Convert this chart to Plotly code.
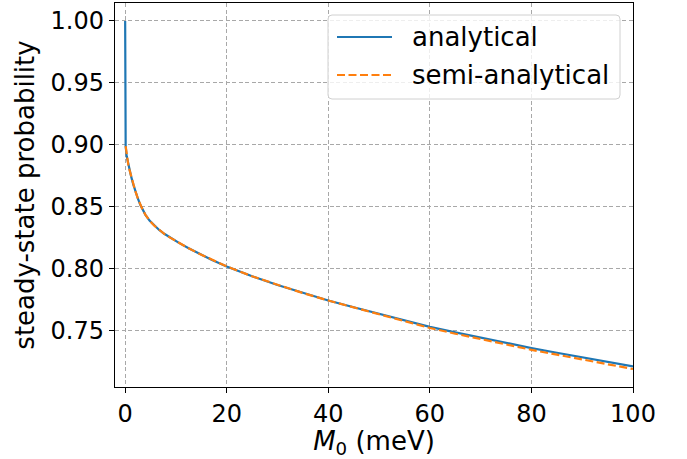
import plotly.graph_objects as go

# ---- data ----
m0_analytical = [0, 0.1, 0.3, 0.6, 0.85, 1.2, 1.6, 2.0, 2.5, 3.0, 3.5, 4.0, 4.8, 5.7, 6.7, 7.7,
                 8.7, 10.6, 12.5, 14.6, 17, 20, 25, 30, 35, 40, 45, 50, 55, 60, 65, 70, 75,
                 80, 85, 90, 95, 100]
p_analytical = [1.000, 0.8990, 0.8908, 0.8845, 0.8800, 0.8742, 0.8682, 0.8628, 0.8568, 0.8515,
                0.8472, 0.8436, 0.8390, 0.8350, 0.8314, 0.8283, 0.8256, 0.8210, 0.8166, 0.8122,
                0.8074, 0.8020, 0.7940, 0.7870, 0.7805, 0.7745, 0.7690, 0.7636, 0.7583, 0.7532,
                0.7488, 0.7445, 0.7403, 0.7361, 0.7323, 0.7285, 0.7249, 0.7213]

m0_semi = [0.1, 0.3, 0.6, 0.85, 1.2, 1.6, 2.0, 2.5, 3.0, 3.5, 4.0, 4.8, 5.7, 6.7, 7.7,
           8.7, 10.6, 12.5, 14.6, 17, 20, 25, 30, 35, 40, 45, 50, 55, 60, 65, 70, 75,
           80, 85, 90, 95, 100]
p_semi = [0.8990, 0.8908, 0.8845, 0.8800, 0.8742, 0.8682, 0.8628, 0.8568, 0.8515,
          0.8472, 0.8436, 0.8390, 0.8350, 0.8314, 0.8283, 0.8256, 0.8210, 0.8166, 0.8122,
          0.8074, 0.8020, 0.7940, 0.7870, 0.7805, 0.7745, 0.7688, 0.7631, 0.7577, 0.7523,
          0.7477, 0.7433, 0.7390, 0.7347, 0.7308, 0.7269, 0.7230, 0.7192]

x_ticks = [0, 20, 40, 60, 80, 100]
y_ticks = [0.75, 0.80, 0.85, 0.90, 0.95, 1.00]
series_names = ["analytical", "semi-analytical"]

BLUE = "#1f77b4"
ORANGE = "#ff7f0e"
FONT = "DejaVu Sans"
FS = 24      # tick labels
FS_L = 26    # axis titles / legend

W, H = 687, 459
L, R, T, B = 115, 54, 3, 72
PW, PH = W - L - R, H - T - B


def fx(px):
    return (px - L) / PW


def fy(py):
    return (H - B - py) / PH


fig = go.Figure()
fig.add_trace(go.Scatter(x=m0_analytical, y=p_analytical, mode="lines", name=series_names[0],
                         line=dict(color=BLUE, width=2.2)))
fig.add_trace(go.Scatter(x=m0_semi, y=p_semi, mode="lines", name=series_names[1],
                         line=dict(color=ORANGE, width=2.2, dash="8px,3.5px")))

axis_common = dict(
    showline=True, linecolor="black", linewidth=1.4, mirror=True,
    ticks="outside", ticklen=5, tickwidth=1.2, tickcolor="black",
    showgrid=True, gridcolor="#a8a8a8", gridwidth=1, griddash="4px,2.5px",
    zeroline=False, tickfont=dict(family=FONT, size=FS, color="black"),
)

fig.update_xaxes(range=[-2, 100], tickvals=x_ticks, ticktext=[str(v) for v in x_ticks],
                 title=dict(text="<i>M</i><sub>0</sub> (meV)", font=dict(family=FONT, size=FS_L, color="black"),
                            standoff=3),
                 **axis_common)
fig.update_yaxes(range=[0.7047, 1.0145], tickvals=y_ticks, ticktext=[f"{v:.2f}" for v in y_ticks],
                 title=dict(text="steady-state probability", font=dict(family=FONT, size=FS_L, color="black"),
                            standoff=8),
                 **axis_common)

# ---- legend drawn manually to match matplotlib layout ----
bx0, bx1, by0, by1 = fx(328), fx(620), fy(99), fy(15)
rx, ry = 4 / PW, 4 / PH
path = (f"M {bx0+rx},{by0} L {bx1-rx},{by0} Q {bx1},{by0} {bx1},{by0+ry} "
        f"L {bx1},{by1-ry} Q {bx1},{by1} {bx1-rx},{by1} L {bx0+rx},{by1} "
        f"Q {bx0},{by1} {bx0},{by1-ry} L {bx0},{by0+ry} Q {bx0},{by0} {bx0+rx},{by0} Z")
shapes = [
    dict(type="path", xref="paper", yref="paper", path=path,
         fillcolor="rgba(255,255,255,0.8)", line=dict(color="#d0d0d0", width=1), layer="above"),
    dict(type="line", xref="paper", yref="paper", x0=fx(337), x1=fx(392), y0=fy(37), y1=fy(37),
         line=dict(color=BLUE, width=2.2), layer="above"),
    dict(type="line", xref="paper", yref="paper", x0=fx(337), x1=fx(392), y0=fy(75), y1=fy(75),
         line=dict(color=ORANGE, width=2.2, dash="8px,3.5px"), layer="above"),
]
annotations = [
    dict(xref="paper", yref="paper", x=fx(410), y=fy(37), text=series_names[0], showarrow=False,
         xanchor="left", yanchor="middle", font=dict(family=FONT, size=FS_L, color="black")),
    dict(xref="paper", yref="paper", x=fx(410), y=fy(75), text=series_names[1], showarrow=False,
         xanchor="left", yanchor="middle", font=dict(family=FONT, size=FS_L, color="black")),
]

fig.update_layout(
    width=W, height=H,
    margin=dict(l=L, r=R, t=T, b=B),
    paper_bgcolor="white", plot_bgcolor="white",
    showlegend=False,
    shapes=shapes, annotations=annotations,
    font=dict(family=FONT, size=FS, color="black"),
)

fig.write_html("out.html")
